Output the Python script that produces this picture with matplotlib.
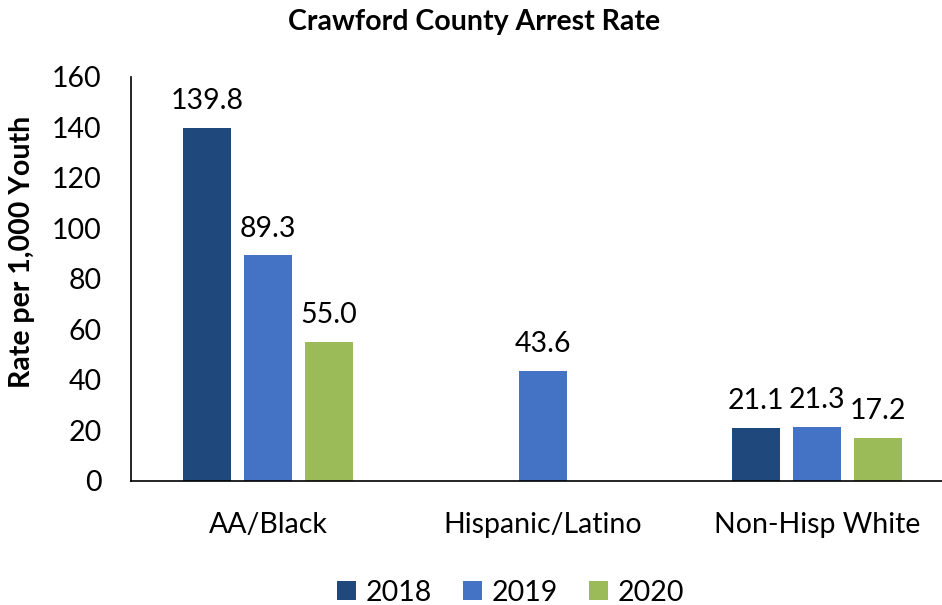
import matplotlib
matplotlib.use("Agg")
import matplotlib.pyplot as plt
import numpy as np

plt.rcParams['font.family'] = ['Lato', 'DejaVu Sans']

categories = ["AA/Black", "Hispanic/Latino", "Non-Hisp White"]
years = ["2018", "2019", "2020"]
rate_2018 = [139.8, np.nan, 21.1]
rate_2019 = [89.3, 43.6, 21.3]
rate_2020 = [55.0, np.nan, 17.2]
colors = ["#1F497D", "#4472C4", "#9BBB59"]

fs = 20.5

fig = plt.figure(figsize=(9.42, 6.05), dpi=100)
ax = fig.add_axes([0.139, 0.205, 0.861, 0.668])

x = np.arange(len(categories))
width = 0.175
step = 0.222
for i, (vals, yr, c) in enumerate(zip([rate_2018, rate_2019, rate_2020], years, colors)):
    pos = x + (i - 1) * step
    ax.bar(pos, vals, width, color=c, label=yr)
    for p, v in zip(pos, vals):
        if np.isnan(v):
            continue
        ax.annotate(f"{v:.1f}", (p, v), xytext=(0, 10), textcoords="offset points",
                    ha="center", va="bottom", fontsize=fs)

ax.set_xlim(-0.5, 2.455)
ax.set_ylim(0, 160)
ax.set_yticks(range(0, 161, 20))
ax.set_xticks(x)
ax.set_xticklabels(categories)
ax.tick_params(axis="both", labelsize=fs, length=0)
ax.tick_params(axis="x", pad=22)
ax.tick_params(axis="y", pad=21)
for s in ["top", "right"]:
    ax.spines[s].set_visible(False)
for s in ["left", "bottom"]:
    ax.spines[s].set_linewidth(1.2)

# axis title and chart title placed in figure coordinates
fig.text(0.0234, 0.583, "Rate per 1,000 Youth", fontsize=fs, fontweight="bold",
         rotation=90, ha="center", va="center")
fig.text(0.503, 0.963, "Crawford County Arrest Rate", fontsize=fs, fontweight="bold",
         ha="center", va="center")

fig.legend(loc="center", bbox_to_anchor=(0.542, 0.02), ncol=3, frameon=False,
           fontsize=fs, handlelength=0.65, handleheight=0.65, columnspacing=1.1,
           handletextpad=0.35)

fig.savefig("out.png", dpi=100)
